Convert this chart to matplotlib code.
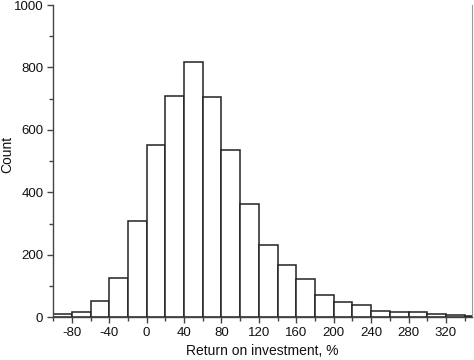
import numpy as np
import matplotlib.pyplot as plt

plt.rcParams['font.family'] = ['Liberation Sans', 'DejaVu Sans']
plt.rcParams['axes.unicode_minus'] = False

# histogram bins (left edges) and counts
bin_left = [-100, -80, -60, -40, -20, 0, 20, 40, 60, 80, 100, 120, 140,
            160, 180, 200, 220, 240, 260, 280, 300, 320, 340]
counts = [9, 16, 52, 127, 307, 551, 709, 818, 704, 537, 362, 231, 168,
          122, 71, 49, 38, 21, 15, 17, 10, 7, 3]
bin_width = 20

x_ticks = [-80, -40, 0, 40, 80, 120, 160, 200, 240, 280, 320]
y_ticks = [0, 200, 400, 600, 800, 1000]

fig = plt.figure(figsize=(4.74, 3.6), dpi=100)
ax = fig.add_axes([0.112, 0.119, 0.884, 0.867])

ax.bar(bin_left, counts, width=bin_width, align='edge',
       facecolor='white', edgecolor='#222222', linewidth=1.1)

ax.set_xlim(-100, 348)
ax.set_ylim(0, 1000)
ax.set_xticks(x_ticks)
ax.set_xticks(np.arange(-100, 350, 20), minor=True)
ax.set_yticks(y_ticks)
ax.set_yticks(np.arange(0, 1001, 100), minor=True)

ax.spines['top'].set_visible(False)
ax.spines['right'].set_color('#999999')
for side in ['left', 'bottom']:
    ax.spines[side].set_color('#444444')
    ax.spines[side].set_linewidth(1.0)

ax.tick_params(axis='both', which='major', length=4, width=1, color='#444444',
               labelsize=9.5, labelcolor='#111111', pad=3)
ax.tick_params(axis='both', which='minor', length=3, width=1, color='#444444')
ax.tick_params(axis='y', right=False)

ax.set_xlabel('Return on investment, %', fontsize=10, color='#111111', labelpad=4)
ax.set_ylabel('Count', fontsize=10, color='#111111')
ax.yaxis.set_label_coords(-0.093, 0.52)

fig.savefig('out.png', dpi=100)
